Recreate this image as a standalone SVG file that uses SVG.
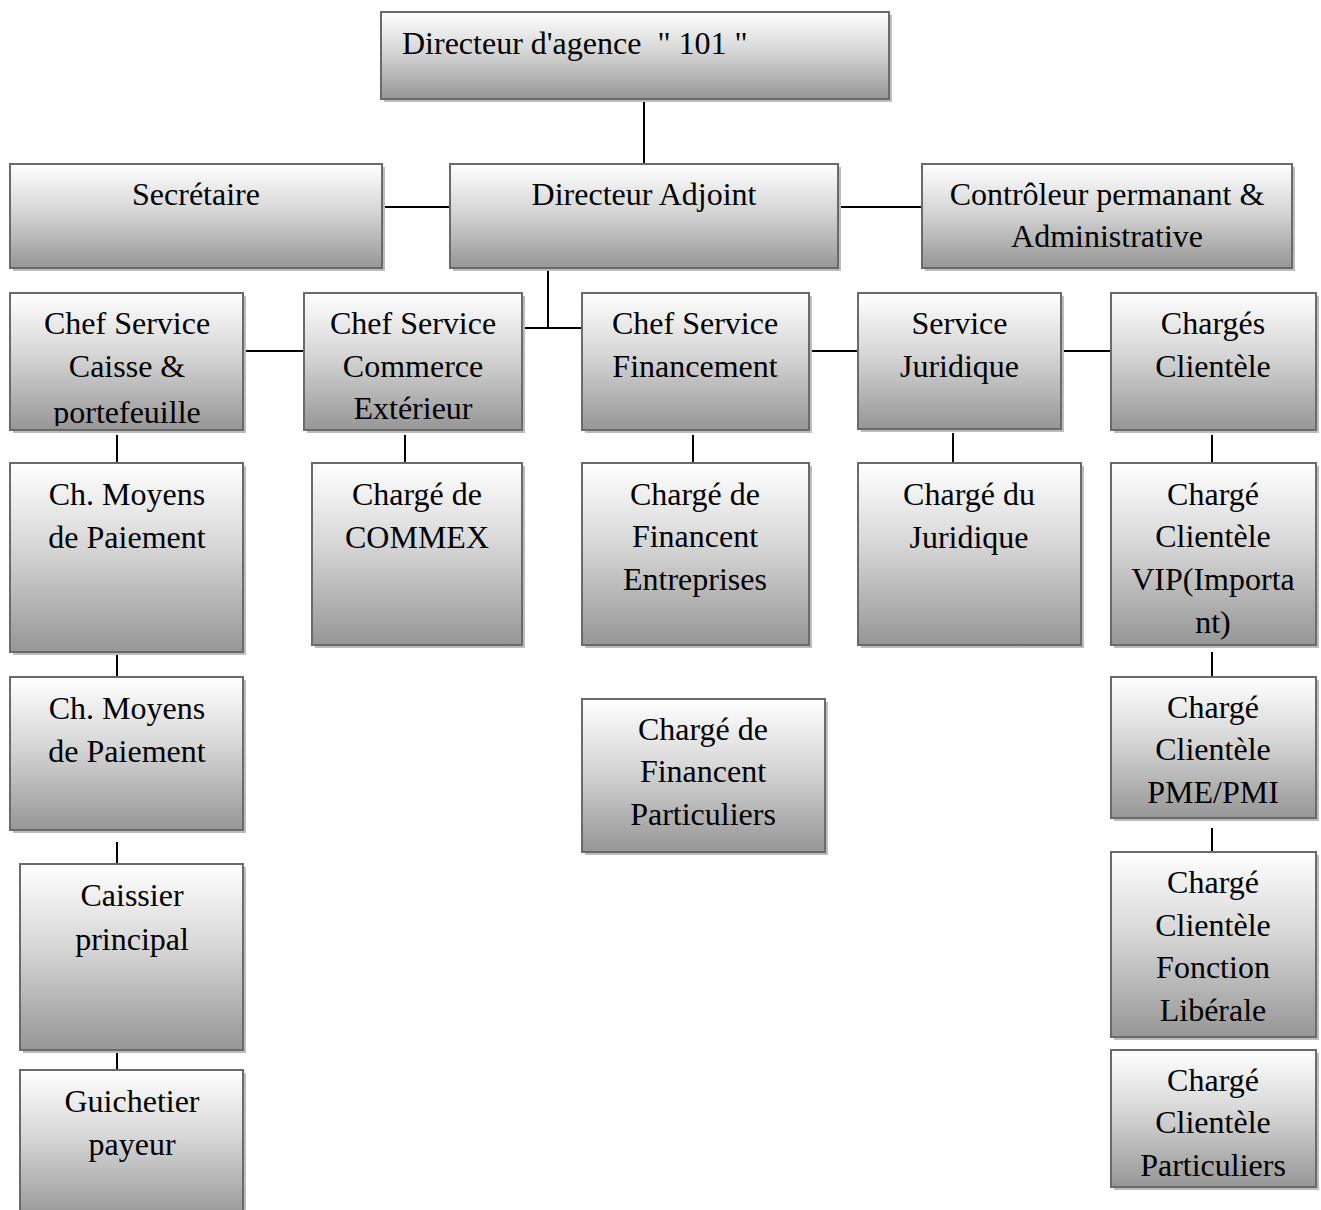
<svg xmlns="http://www.w3.org/2000/svg" width="1321" height="1210" viewBox="0 0 1321 1210">
<defs>
<linearGradient id="g" x1="0" y1="0" x2="0" y2="1">
<stop offset="0" stop-color="#ffffff"/>
<stop offset="0.45" stop-color="#d6d6d6"/>
<stop offset="1" stop-color="#969696"/>
</linearGradient>
<clipPath id="c5"><rect x="11" y="294" width="231" height="132"/></clipPath>
<style>
.sh{fill:#bcbcbc}
.bx{fill:url(#g);stroke:#6a6a6a;stroke-width:2}
.t{font-family:"Liberation Serif","Times New Roman",serif;font-size:32px;fill:#000;text-anchor:middle}
.l{text-anchor:start}
.cn{stroke:#000;stroke-width:2;fill:none}
</style>
</defs>
<rect width="1321" height="1210" fill="#fff"/>
<g id="connectors">
<line class="cn" x1="644" y1="100" x2="644" y2="164"/>
<line class="cn" x1="382" y1="207" x2="450" y2="207"/>
<line class="cn" x1="838" y1="207" x2="922" y2="207"/>
<polyline class="cn" points="548,268 548,328"/>
<line class="cn" x1="522" y1="328" x2="582" y2="328"/>
<line class="cn" x1="243" y1="351" x2="304" y2="351"/>
<line class="cn" x1="809" y1="351" x2="858" y2="351"/>
<line class="cn" x1="1061" y1="351" x2="1111" y2="351"/>
<line class="cn" x1="117" y1="435" x2="117" y2="463"/>
<line class="cn" x1="405" y1="435" x2="405" y2="463"/>
<line class="cn" x1="693" y1="435" x2="693" y2="463"/>
<line class="cn" x1="953" y1="433" x2="953" y2="463"/>
<line class="cn" x1="1212" y1="435" x2="1212" y2="463"/>
<line class="cn" x1="117" y1="652" x2="117" y2="677"/>
<line class="cn" x1="117" y1="842" x2="117" y2="864"/>
<line class="cn" x1="117" y1="1052" x2="117" y2="1070"/>
<line class="cn" x1="1212" y1="652" x2="1212" y2="677"/>
<line class="cn" x1="1212" y1="828" x2="1212" y2="852"/>
</g>
<g id="n1"><rect class="sh" x="384" y="15" width="508" height="87"/><rect class="bx" x="381" y="12" width="508" height="87"/><text class="t l" x="402" y="54" xml:space="preserve">Directeur d'agence  " 101 "</text></g>
<g id="n2"><rect class="sh" x="13" y="167" width="372" height="104"/><rect class="bx" x="10" y="164" width="372" height="104"/><text class="t" x="196" y="205">Secrétaire</text></g>
<g id="n3"><rect class="sh" x="453" y="167" width="388" height="104"/><rect class="bx" x="450" y="164" width="388" height="104"/><text class="t" x="644" y="205">Directeur Adjoint</text></g>
<g id="n4"><rect class="sh" x="925" y="167" width="370" height="104"/><rect class="bx" x="922" y="164" width="370" height="104"/><text class="t" x="1107" y="205">Contrôleur permanant &amp;</text><text class="t" x="1107" y="247">Administrative</text></g>
<g id="n5"><rect class="sh" x="13" y="296" width="233" height="137"/><rect class="bx" x="10" y="293" width="233" height="137"/><g clip-path="url(#c5)"><text class="t" x="127" y="334">Chef Service</text><text class="t" x="127" y="377">Caisse &amp;</text><text class="t" x="127" y="423">portefeuille</text></g></g>
<g id="n6"><rect class="sh" x="307" y="296" width="218" height="137"/><rect class="bx" x="304" y="293" width="218" height="137"/><text class="t" x="413" y="334">Chef Service</text><text class="t" x="413" y="377">Commerce</text><text class="t" x="413" y="419">Extérieur</text></g>
<g id="n7"><rect class="sh" x="585" y="296" width="227" height="137"/><rect class="bx" x="582" y="293" width="227" height="137"/><text class="t" x="695" y="334">Chef Service</text><text class="t" x="695" y="377">Financement</text></g>
<g id="n8"><rect class="sh" x="861" y="296" width="203" height="136"/><rect class="bx" x="858" y="293" width="203" height="136"/><text class="t" x="959.5" y="334">Service</text><text class="t" x="959.5" y="377">Juridique</text></g>
<g id="n9"><rect class="sh" x="1114" y="296" width="205" height="137"/><rect class="bx" x="1111" y="293" width="205" height="137"/><text class="t" x="1213" y="334">Chargés</text><text class="t" x="1213" y="377">Clientèle</text></g>
<g id="n10"><rect class="sh" x="13" y="466" width="233" height="189"/><rect class="bx" x="10" y="463" width="233" height="189"/><text class="t" x="127" y="505">Ch. Moyens</text><text class="t" x="127" y="548">de Paiement</text></g>
<g id="n11"><rect class="sh" x="315" y="466" width="210" height="182"/><rect class="bx" x="312" y="463" width="210" height="182"/><text class="t" x="417" y="505">Chargé de</text><text class="t" x="417" y="548">COMMEX</text></g>
<g id="n12"><rect class="sh" x="585" y="466" width="227" height="182"/><rect class="bx" x="582" y="463" width="227" height="182"/><text class="t" x="695" y="505">Chargé de</text><text class="t" x="695" y="547">Financent</text><text class="t" x="695" y="590">Entreprises</text></g>
<g id="n13"><rect class="sh" x="861" y="466" width="223" height="182"/><rect class="bx" x="858" y="463" width="223" height="182"/><text class="t" x="969" y="505">Chargé du</text><text class="t" x="969" y="548">Juridique</text></g>
<g id="n14"><rect class="sh" x="1114" y="466" width="205" height="182"/><rect class="bx" x="1111" y="463" width="205" height="182"/><text class="t" x="1213" y="505">Chargé</text><text class="t" x="1213" y="547">Clientèle</text><text class="t" x="1213" y="590">VIP(Importa</text><text class="t" x="1213" y="633">nt)</text></g>
<g id="n15"><rect class="sh" x="13" y="680" width="233" height="153"/><rect class="bx" x="10" y="677" width="233" height="153"/><text class="t" x="127" y="719">Ch. Moyens</text><text class="t" x="127" y="762">de Paiement</text></g>
<g id="n16"><rect class="sh" x="585" y="702" width="243" height="153"/><rect class="bx" x="582" y="699" width="243" height="153"/><text class="t" x="703" y="740">Chargé de</text><text class="t" x="703" y="782">Financent</text><text class="t" x="703" y="825">Particuliers</text></g>
<g id="n17"><rect class="sh" x="1114" y="680" width="205" height="141"/><rect class="bx" x="1111" y="677" width="205" height="141"/><text class="t" x="1213" y="718">Chargé</text><text class="t" x="1213" y="760">Clientèle</text><text class="t" x="1213" y="803">PME/PMI</text></g>
<g id="n18"><rect class="sh" x="23" y="867" width="223" height="186"/><rect class="bx" x="20" y="864" width="223" height="186"/><text class="t" x="132" y="906">Caissier</text><text class="t" x="132" y="950">principal</text></g>
<g id="n19"><rect class="sh" x="1114" y="855" width="205" height="185"/><rect class="bx" x="1111" y="852" width="205" height="185"/><text class="t" x="1213" y="893">Chargé</text><text class="t" x="1213" y="936">Clientèle</text><text class="t" x="1213" y="978">Fonction</text><text class="t" x="1213" y="1021">Libérale</text></g>
<g id="n20"><rect class="sh" x="23" y="1073" width="223" height="150"/><rect class="bx" x="20" y="1070" width="223" height="150"/><text class="t" x="132" y="1112">Guichetier</text><text class="t" x="132" y="1155">payeur</text></g>
<g id="n21"><rect class="sh" x="1114" y="1053" width="205" height="137"/><rect class="bx" x="1111" y="1050" width="205" height="137"/><text class="t" x="1213" y="1091">Chargé</text><text class="t" x="1213" y="1133">Clientèle</text><text class="t" x="1213" y="1176">Particuliers</text></g>
</svg>
